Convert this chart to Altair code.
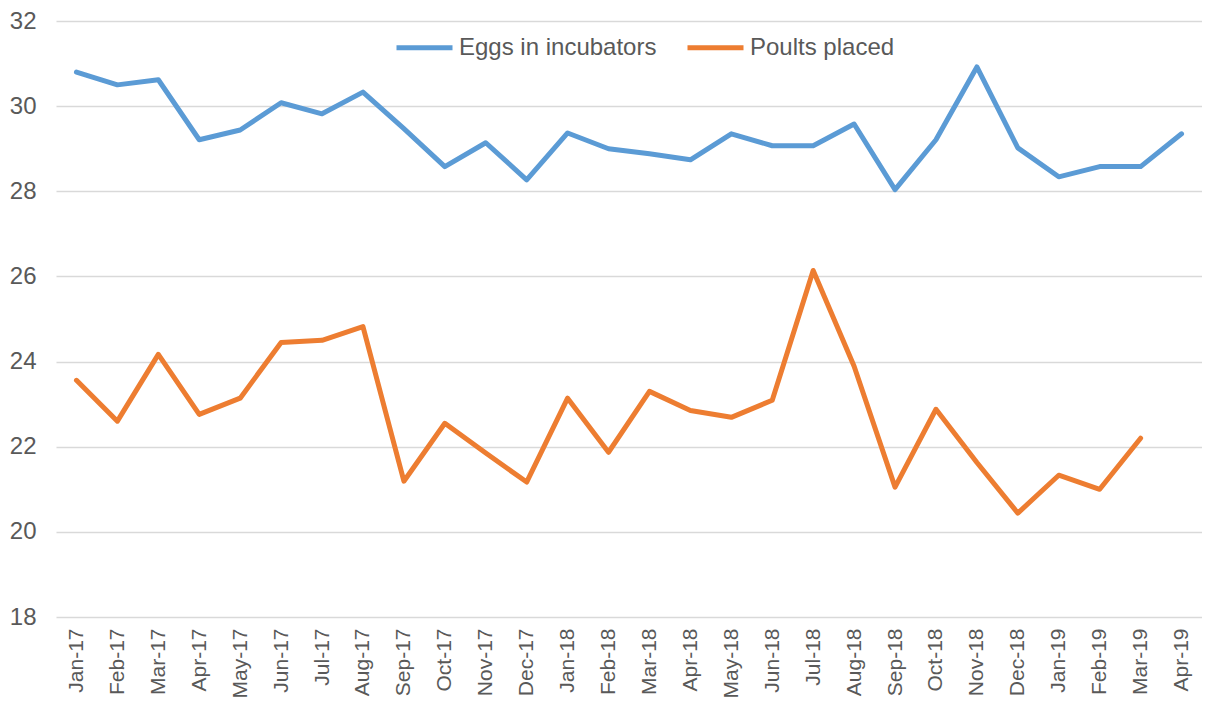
import altair as alt
import pandas as pd

months = ["Jan-17", "Feb-17", "Mar-17", "Apr-17", "May-17", "Jun-17", "Jul-17", "Aug-17",
          "Sep-17", "Oct-17", "Nov-17", "Dec-17", "Jan-18", "Feb-18", "Mar-18", "Apr-18",
          "May-18", "Jun-18", "Jul-18", "Aug-18", "Sep-18", "Oct-18", "Nov-18", "Dec-18",
          "Jan-19", "Feb-19", "Mar-19", "Apr-19"]

eggs = [30.80, 30.50, 30.62, 29.21, 29.44, 30.08, 29.82, 30.33, 29.47, 28.58, 29.14, 28.27,
        29.37, 29.00, 28.88, 28.74, 29.35, 29.07, 29.07, 29.58, 28.04, 29.21, 30.92, 29.02,
        28.34, 28.58, 28.58, 29.35]

poults = [23.56, 22.60, 24.17, 22.76, 23.14, 24.45, 24.50, 24.82, 21.19, 22.55, 21.85, 21.17,
          23.14, 21.87, 23.30, 22.85, 22.69, 23.09, 26.14, 23.89, 21.05, 22.88, 21.63, 20.44,
          21.33, 21.00, 22.20]

series_names = ["Eggs in incubators", "Poults placed"]
series_colors = ["#5B9BD5", "#ED7D31"]
y_ticks = [18, 20, 22, 24, 26, 28, 30, 32]

rows = []
for i, v in enumerate(eggs):
    rows.append({"month": months[i], "series": series_names[0], "value": v, "order": i})
for i, v in enumerate(poults):
    rows.append({"month": months[i], "series": series_names[1], "value": v, "order": i})
df = pd.DataFrame(rows)

font = "Liberation Sans"
text_color = "#595959"

chart = alt.Chart(df).mark_line(strokeWidth=5, strokeJoin="round", strokeCap="round").encode(
    x=alt.X("month:N", sort=months,
            scale=alt.Scale(type="point", padding=0.5),
            axis=alt.Axis(title=None, labelAngle=270, labelFontSize=21, labelColor=text_color,
                          labelFont=font, ticks=False, domain=False, grid=False,
                          labelPadding=11, labelOverlap=False)),
    y=alt.Y("value:Q",
            scale=alt.Scale(domain=[18, 32], nice=False, zero=False),
            axis=alt.Axis(title=None, values=y_ticks, labelFontSize=24, labelColor=text_color,
                          labelFont=font, ticks=False, domain=False, grid=True,
                          gridColor="#d9d9d9", gridWidth=1.4, labelPadding=20)),
    color=alt.Color("series:N",
                    scale=alt.Scale(domain=series_names, range=series_colors),
                    legend=alt.Legend(title=None, orient="none", direction="horizontal",
                                      legendX=338, legendY=-4, symbolType="stroke",
                                      symbolSize=3136, symbolStrokeWidth=5,
                                      labelFontSize=24, labelFont=font, labelColor=text_color,
                                      labelLimit=0, labelOffset=4, columnPadding=20,
                                      padding=0)),
    order="order:Q",
).properties(
    width=1146,
    height=596,
    autosize=alt.AutoSizeParams(type="none"),
    padding={"left": 48, "top": 13, "right": 0, "bottom": 83},
).configure_view(stroke=None)

chart.save("out.html", embed_options={"renderer": "svg", "actions": False})
